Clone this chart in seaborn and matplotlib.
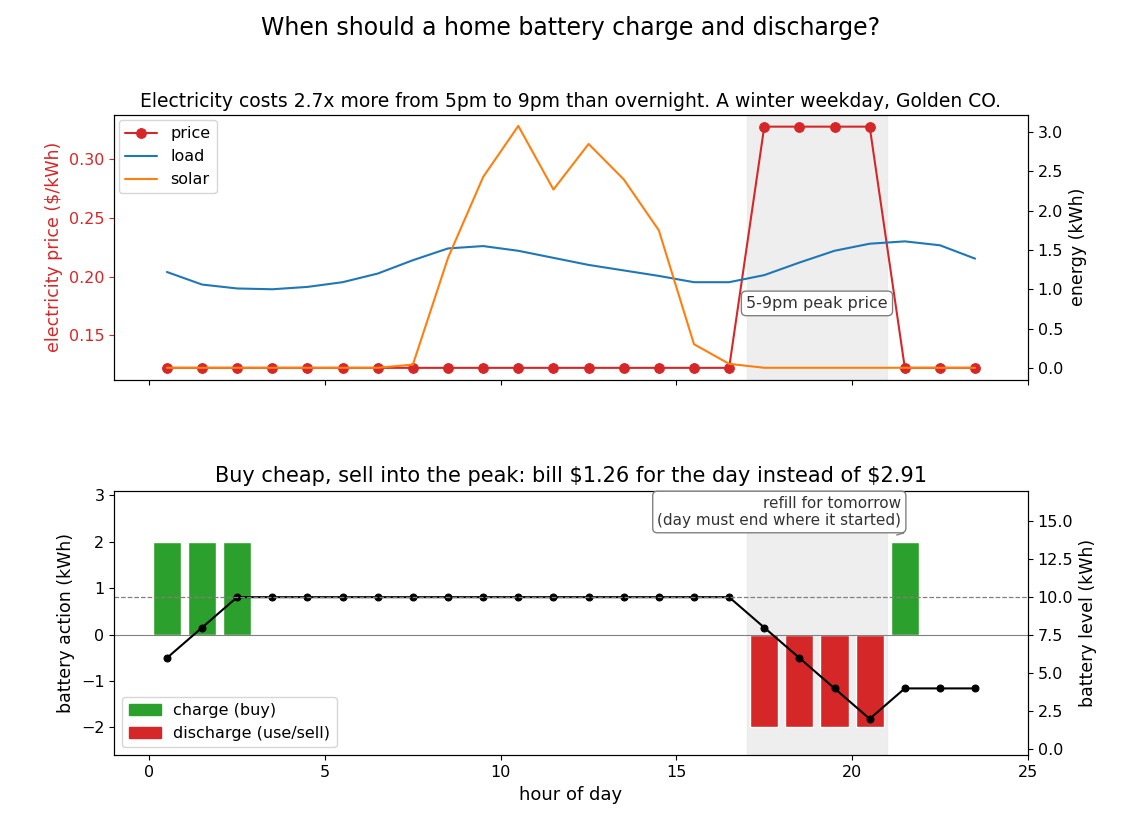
import matplotlib
matplotlib.use("Agg")
import matplotlib.pyplot as plt
from matplotlib.patches import Patch
import seaborn as sns
import numpy as np
import pandas as pd

sns.set_style("ticks", rc={"text.color": "black", "axes.labelcolor": "black",
                            "xtick.color": "black", "ytick.color": "black", "axes.edgecolor": "black"})
plt.rcParams['font.family'] = ['DejaVu Sans']

hours = [h + 0.5 for h in range(24)]
price = [0.122]*17 + [0.328]*4 + [0.122]*3
load = [1.22,1.06,1.01,1.00,1.03,1.09,1.20,1.37,1.52,1.55,1.49,1.40,1.31,1.24,1.17,1.09,1.09,1.18,1.34,1.49,1.58,1.61,1.56,1.39]
solar = [0,0,0,0,0,0,0,0.04,1.40,2.43,3.08,2.27,2.85,2.40,1.75,0.30,0.05,0,0,0,0,0,0,0]
action = [2,2,2,0,0,0,0,0,0,0,0,0,0,0,0,0,0,-2,-2,-2,-2,2,0,0]
level = [6,8,10,10,10,10,10,10,10,10,10,10,10,10,10,10,10,8,6,4,2,4,4,4]

df = pd.DataFrame(dict(hour=hours, price=price, load=load, solar=solar, action=action, level=level))

fig, (ax1, ax3) = plt.subplots(2, 1, figsize=(11.42, 8.21), dpi=100, sharex=True)
fig.suptitle("When should a home battery charge and discharge?", fontsize=17)

ax1.axvspan(17, 21, color="#e8e8e8", alpha=0.7, zorder=0)
sns.lineplot(data=df, x="hour", y="price", ax=ax1, color="#d62728", marker="o", markersize=7,
             markeredgecolor="#d62728", label="price", legend=False)
ax1.set_ylabel("electricity price ($/kWh)", color="#d62728", fontsize=12.5)
ax1.set_ylim(0.112, 0.338)
ax1.set_xlabel("")
ax2 = ax1.twinx()
sns.lineplot(data=df, x="hour", y="load", ax=ax2, color="#1f77b4", label="load", legend=False)
sns.lineplot(data=df, x="hour", y="solar", ax=ax2, color="#ff7f0e", label="solar", legend=False)
ax2.set_ylim(-0.15, 3.22)
ax2.set_ylabel("energy (kWh)", fontsize=12.5)
h1, l1 = ax1.get_legend_handles_labels()
h2, l2 = ax2.get_legend_handles_labels()
ax1.legend(h1 + h2, l1 + l2, loc="upper left", fontsize=11.5, borderaxespad=0.3)
ax1.set_title("Electricity costs 2.7x more from 5pm to 9pm than overnight. A winter weekday, Golden CO.", fontsize=13.5)
ax2.text(19, 0.82, "5-9pm peak price", ha="center", va="center", fontsize=11.5, color="#333",
         bbox=dict(boxstyle="round", fc="white", ec="gray"))

ax3.axvspan(17, 21, color="#e8e8e8", alpha=0.7, zorder=0)
ax3.axhline(0, color="gray", lw=0.8)
colors = ["#2ca02c" if a > 0 else "#d62728" for a in action]
ax3.bar(df.hour, df.action, width=0.8, color=colors)
ax3.legend(handles=[Patch(color="#2ca02c", label="charge (buy)"),
                    Patch(color="#d62728", label="discharge (use/sell)")],
           loc="lower left", fontsize=11.5)
ax3.set_ylim(-2.6, 3.1)
ax3.set_yticks([-2, -1, 0, 1, 2, 3])
ax3.set_ylabel("battery action (kWh)", fontsize=12.5)
ax3.set_xlabel("hour of day", fontsize=13)
ax3.set_xlim(-1, 25)
ax3.set_xticks([0, 5, 10, 15, 20, 25])
ax3.set_title(r"Buy cheap, sell into the peak: bill \$1.26 for the day instead of \$2.91", fontsize=15)
ax4 = ax3.twinx()
sns.lineplot(data=df, x="hour", y="level", ax=ax4, color="black", marker="o", markersize=5,
             markeredgecolor="black", legend=False)
ax4.axhline(10, color="gray", ls="--", lw=0.9)
ax4.set_ylim(-0.4, 17.0)
ax4.set_yticks([0, 2.5, 5, 7.5, 10, 12.5, 15])
ax4.set_ylabel("battery level (kWh)", fontsize=12.5)
ax4.set_xlabel("hour of day", fontsize=13)
ax4.annotate("refill for tomorrow\n(day must end where it started)", xy=(21.5, 14.2), xytext=(21.4, 15.6),
             ha="right", va="center", fontsize=11, color="#333",
             bbox=dict(boxstyle="round", fc="white", ec="gray"),
             arrowprops=dict(arrowstyle="->", color="gray"))
for a in (ax1, ax2, ax3, ax4):
    a.tick_params(labelsize=11.5)
    for s in a.spines.values():
        s.set_visible(True)
ax1.tick_params(axis="y", colors="#d62728")
fig.subplots_adjust(left=0.1, right=0.9, top=0.86, bottom=0.08, hspace=0.42)
fig.savefig("out.png", dpi=100)
